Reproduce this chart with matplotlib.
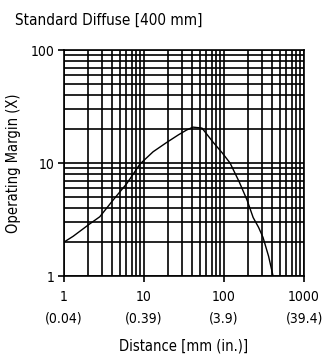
import numpy as np
import matplotlib.pyplot as plt
from matplotlib.ticker import LogLocator, FixedLocator, NullFormatter

plt.rcParams['font.family'] = ['DejaVu Sans']
plt.rcParams['font.stretch'] = 'condensed'

# curve
distance = [1, 1.3, 2.1, 2.8, 4.1, 6.1, 8.9, 13, 19.4, 27, 34, 41, 53, 73, 95, 119, 155, 194, 231, 270, 307, 360, 410]
margin = [2.0, 2.25, 2.9, 3.35, 4.7, 6.6, 9.8, 12.6, 15.3, 17.8, 19.6, 20.8, 20.4, 15.3, 12.3, 10, 6.8, 4.7, 3.3, 2.7, 2.2, 1.5, 1.0]

xticks = [1, 10, 100, 1000]
xlabels = ['1\n(0.04)', '10\n(0.39)', '100\n(3.9)', '1000\n(39.4)']
yticks = [1, 10, 100]
ylabels = ['1', '10', '100']

fig = plt.figure(figsize=(3.24, 3.6), dpi=100)
ax = fig.add_axes([0.1975, 0.233, 0.741, 0.628])

ax.set_xscale('log')
ax.set_yscale('log')
ax.set_xlim(1, 1000)
ax.set_ylim(1, 100)

ax.xaxis.set_major_locator(FixedLocator(xticks))
ax.set_xticklabels(xlabels, linespacing=1.7)
ax.yaxis.set_major_locator(FixedLocator(yticks))
ax.set_yticklabels(ylabels)
ax.xaxis.set_minor_locator(LogLocator(base=10, subs=np.arange(2, 10)))
ax.yaxis.set_minor_locator(LogLocator(base=10, subs=np.arange(2, 10)))
ax.xaxis.set_minor_formatter(NullFormatter())
ax.yaxis.set_minor_formatter(NullFormatter())

ax.grid(True, which='both', color='black', linewidth=1.2)
ax.tick_params(which='minor', length=0)
ax.tick_params(which='major', length=4, width=1.2, color='black', labelsize=10, pad=3)
ax.tick_params(axis='x', which='major', labelsize=10, pad=6)

for s in ax.spines.values():
    s.set_linewidth(1.2)
    s.set_color('black')

ax.plot(distance, margin, color='black', linewidth=1.0)

ax.set_xlabel('Distance [mm (in.)]', fontsize=10.5, labelpad=9)
ax.set_ylabel('Operating Margin (X)', fontsize=10.5, labelpad=7)

fig.text(0.046, 0.945, 'Standard Diffuse [400 mm]', fontsize=11, ha='left', va='center')

fig.savefig('out.png', dpi=100)
